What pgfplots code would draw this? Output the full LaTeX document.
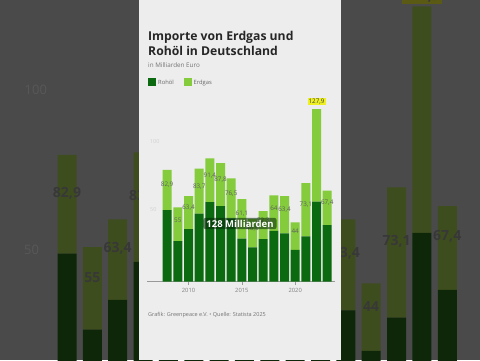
\documentclass[border=0pt]{standalone}
\usepackage{pgfplots}
\pgfplotsset{compat=1.18}
\usepackage{pgfplotstable}
\usepackage{fontspec}
\setmainfont{Open Sans}
\definecolor{rohoel}{HTML}{0B6A10}
\definecolor{erdgas}{HTML}{84CC3C}
\definecolor{bgdark}{HTML}{4A4A4A}
\definecolor{dimlight}{HTML}{3E4D1E}
\definecolor{dimdark}{HTML}{0D2708}
\definecolor{dimlab}{HTML}{383838}
\definecolor{dimtick}{HTML}{585858}
\definecolor{panel}{HTML}{EDEDED}
\definecolor{hl}{HTML}{EEF022}
\definecolor{dimhl}{HTML}{5A5A14}
\pgfplotstableread{
year oil gas lab
2008 53.0 29.9 82,9
2009 30.0 25.0 55
2010 39.0 24.4 63,4
2011 50.5 33.2 83,7
2012 59.0 32.4 91,4
2013 56.0 31.8 87,8
2014 47.0 29.5 76,5
2015 32.0 29.1 61,1
2016 25.5 21.0 46,5
2017 31.6 20.7 52,3
2018 37.7 26.3 64
2019 35.8 27.6 63,4
2020 23.5 20.5 44
2021 33.6 39.5 73,1
2022 59.3 68.6 {}
2023 42.0 25.4 67,4
}\datatable
\begin{document}
\begin{tikzpicture}
\useasboundingbox (0pt,0pt) rectangle (480pt,360pt);
\clip (0pt,0pt) rectangle (480pt,360pt);
\fill[bgdark] (0pt,0pt) rectangle (480pt,360pt);
% blurred, enlarged background copy
\begin{axis}[
  at={(-9.05pt,-68.5pt)}, anchor=south west,
  scale only axis, width=532.35pt, height=462pt,
  xmin=2005, xmax=2026, ymin=0, ymax=140,
  axis lines=none, clip=false,
  ybar stacked, bar width=19pt,
]
\addplot[fill=dimdark, draw=none] table[x=year,y=oil]{\datatable};
\addplot[fill=dimlight, draw=none,
  nodes near coords, point meta=explicit symbolic,
  every node near coord/.append style={font=\fontsize{14}{16}\selectfont\bfseries, text=dimlab, anchor=south, inner sep=5pt}]
  table[x=year,y=gas,meta=lab]{\datatable};
\node[font=\fontsize{13}{15}\selectfont, text=dimtick] at (axis cs:2006.77,102.6) {100};
\node[font=\fontsize{13}{15}\selectfont, text=dimtick] at (axis cs:2006.6,54.1) {50};
\node[fill=dimhl, font=\fontsize{14}{16}\selectfont\bfseries, text=dimlab, anchor=south, inner sep=2pt] at (axis cs:2022,128.6) {127,9};
\end{axis}
% white panel
\fill[panel] (139pt,0pt) rectangle (341pt,360pt);
% titles
\node[anchor=base west, inner sep=0, font=\fontsize{12.2}{14}\selectfont\bfseries, text=black!85] at (148pt,319.3pt) {Importe von Erdgas und};
\node[anchor=base west, inner sep=0, font=\fontsize{12.2}{14}\selectfont\bfseries, text=black!85] at (148pt,304.3pt) {Rohöl in Deutschland};
\node[anchor=base west, inner sep=0, font=\fontsize{6.3}{7}\selectfont, text=black!55] at (148pt,292.5pt) {in Milliarden Euro};
\fill[rohoel] (148pt,274pt) rectangle (156pt,282pt);
\node[anchor=base west, inner sep=0, font=\fontsize{5.8}{6}\selectfont, text=black!60] at (158pt,275.8pt) {Rohöl};
\fill[erdgas] (183.5pt,274pt) rectangle (191.5pt,282pt);
\node[anchor=base west, inner sep=0, font=\fontsize{5.8}{6}\selectfont, text=black!60] at (193.5pt,275.8pt) {Erdgas};
\node[anchor=base west, inner sep=0, font=\fontsize{5.5}{6}\selectfont, text=black!55] at (148pt,44pt) {Grafik: Greenpeace e.V. • Quelle: Statista 2025};
% foreground chart
\begin{axis}[
  at={(147pt,78.3pt)}, anchor=south west,
  scale only axis, width=188pt, height=175.5pt,
  xmin=2006.11, xmax=2023.73, ymin=0, ymax=130,
  ybar stacked, bar width=9pt, clip=false,
  axis y line=none, axis x line=bottom,
  x axis line style={-, draw=black!40, line width=0.6pt},
  xtick={2010,2015,2020}, xticklabels={2010,2015,2020},
  xticklabel style={font=\fontsize{5.8}{6}\selectfont, text=black!50},
  tick style={draw=black!40}, major tick length=3.5pt, tick align=outside,
]
\addplot[fill=rohoel, draw=none] table[x=year,y=oil]{\datatable};
\addplot[fill=erdgas, draw=none,
  nodes near coords, point meta=explicit symbolic,
  every node near coord/.append style={font=\fontsize{6.3}{7}\selectfont, text=black!62, anchor=south, inner sep=2pt}]
  table[x=year,y=gas,meta=lab]{\datatable};
\node[font=\fontsize{5.5}{6}\selectfont, text=black!18] at (axis cs:2006.83,104.2) {100};
\node[font=\fontsize{5.5}{6}\selectfont, text=black!18] at (axis cs:2006.7,53.5) {50};
\node[fill=hl, font=\fontsize{6.3}{7}\selectfont, text=black!75, anchor=south, inner sep=1pt, minimum width=18pt] at (axis cs:2022,130.6) {127,9};
\end{axis}
% caption overlay
\node[fill=black!65!rohoel, fill opacity=0.55, text opacity=1, text=white, rounded corners=2pt, inner xsep=3pt, inner ysep=2pt, font=\fontsize{9.5}{11}\selectfont\bfseries] at (240pt,136.5pt) {128 Milliarden};
\end{tikzpicture}
\end{document}
